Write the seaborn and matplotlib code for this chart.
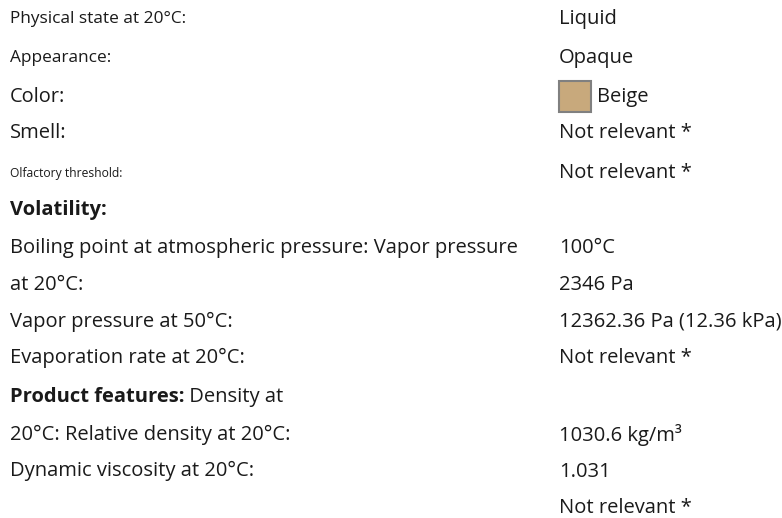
"""Ficha técnica: propiedades físicas del producto (recreación en texto)."""
import matplotlib
matplotlib.use("Agg")
import matplotlib.pyplot as plt
import matplotlib.patches as mpatches
import seaborn as sns

sns.set_theme(style="white")
plt.rcParams["font.family"] = ["Open Sans", "Noto Sans", "DejaVu Sans"]

# ─────────────────────────────────────────────────────────────────────────────
# Data: rows of the property sheet
# ─────────────────────────────────────────────────────────────────────────────
left_labels = [
    "Physical state at 20°C:", "Appearance:", "Color:", "Smell:",
    "Olfactory threshold:", "Volatility:",
    "Boiling point at atmospheric pressure: Vapor pressure", "at 20°C:",
    "Vapor pressure at 50°C:", "Evaporation rate at 20°C:",
    "Product features:", "20°C: Relative density at 20°C:",
    "Dynamic viscosity at 20°C:",
]
left_sizes = [12.4, 12.4, 14.4, 14.5, 8.7, 14.5, 14.5, 14.5, 14.5, 14.5, 14.5, 14.5, 14.5]
left_bold = [False] * 5 + [True] + [False] * 4 + [True, False, False]
left_y = [19, 58, 97, 133, 173, 210, 248, 285, 322, 358, 397, 435, 471]
tail_text = {10: " Density at"}

right_values = [
    "Liquid", "Opaque", "Beige", "Not relevant *", "Not relevant *",
    "100°C", "2346 Pa", "12362.36 Pa (12.36 kPa)", "Not relevant *",
    "1030.6 kg/m³", "1.031", "Not relevant *",
]
right_y = [19, 58, 97, 133, 173, 248, 285, 322, 358, 435, 472, 508]
swatch_color = "#C8A97C"

W, H = 782, 518
TXT = "#1a1a1a"

fig = plt.figure(figsize=(W / 100, H / 100), dpi=100)
ax = fig.add_axes([0, 0, 1, 1])
ax.set_xlim(0, W)
ax.set_ylim(H, 0)
ax.axis("off")

renderer = fig.canvas.get_renderer()
for i, (lab, fs, b, y) in enumerate(zip(left_labels, left_sizes, left_bold, left_y)):
    t = ax.text(10, y, lab, fontsize=fs, fontweight="bold" if b else "normal",
                color=TXT, va="center", ha="left")
    if i in tail_text:
        bb = t.get_window_extent(renderer=renderer)
        x_end = ax.transData.inverted().transform((bb.x1, bb.y0))[0]
        ax.text(x_end, y, tail_text[i], fontsize=fs, color=TXT, va="center", ha="left")

x_right = 559
for val, y in zip(right_values, right_y):
    x = x_right
    if val == "Beige":
        ax.add_patch(mpatches.Rectangle((x_right, y - 16), 32, 31, facecolor=swatch_color,
                                        edgecolor="#808080", linewidth=1.5))
        x = x_right + 38
    ax.text(x, y, val, fontsize=14.5, color=TXT, va="center", ha="left")

fig.savefig("out.png", dpi=100)
plt.close()
